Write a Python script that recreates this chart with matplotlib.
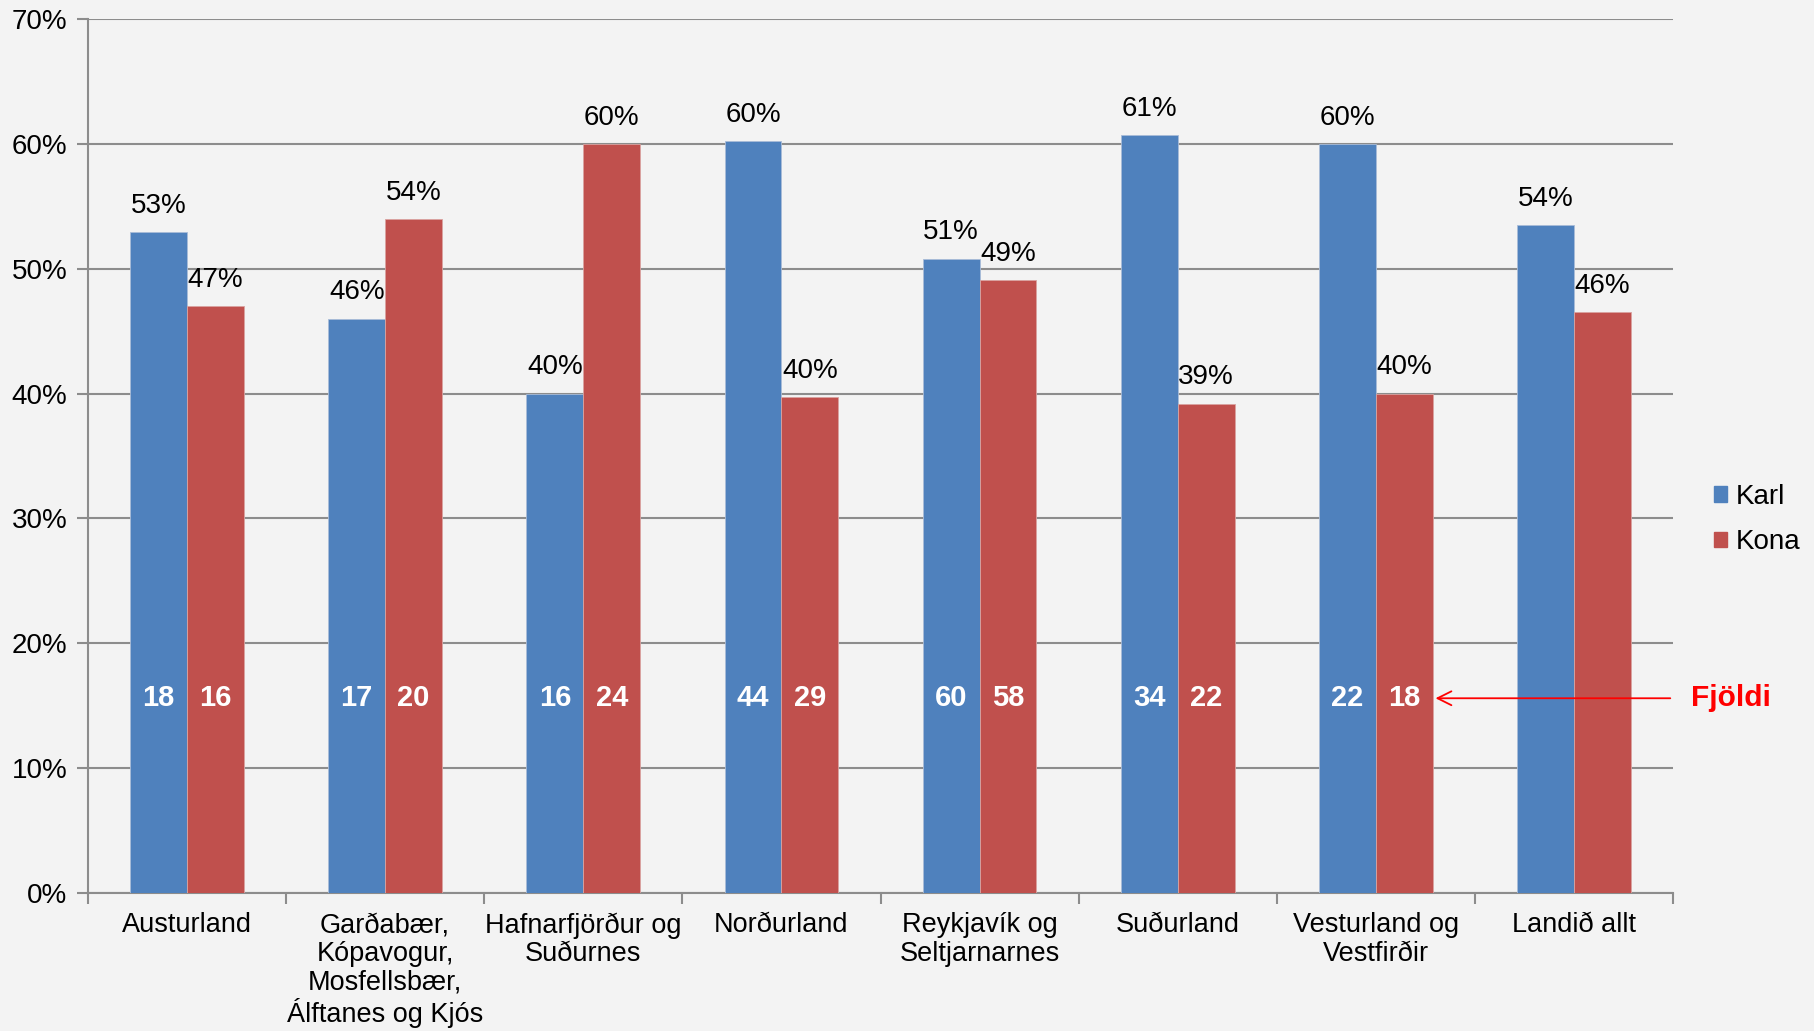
import numpy as np
import matplotlib.pyplot as plt
from matplotlib.patches import Patch

plt.rcParams['font.family'] = ['Liberation Sans', 'DejaVu Sans']

# data
regions = ['Austurland', 'Garðabær,\nKópavogur,\nMosfellsbær,\nÁlftanes og Kjós',
           'Hafnarfjörður og\nSuðurnes', 'Norðurland', 'Reykjavík og\nSeltjarnarnes',
           'Suðurland', 'Vesturland og\nVestfirðir', 'Landið allt']
karl = [0.529, 0.460, 0.400, 0.602, 0.508, 0.607, 0.600, 0.535]
kona = [0.470, 0.540, 0.600, 0.397, 0.491, 0.392, 0.400, 0.465]
karl_labels = ['53%', '46%', '40%', '60%', '51%', '61%', '60%', '54%']
kona_labels = ['47%', '54%', '60%', '40%', '49%', '39%', '40%', '46%']
karl_n = [18, 17, 16, 44, 60, 34, 22]
kona_n = [16, 20, 24, 29, 58, 22, 18]

blue = '#4f81bd'
red = '#c0504d'
bg = '#f3f3f3'
grey = '#8c8c8c'

fig = plt.figure(figsize=(18.14, 10.31), dpi=100, facecolor=bg)
ax = fig.add_axes([0.0485, 0.1338, 0.8738, 0.8478])
ax.set_facecolor(bg)

x = np.arange(len(regions))
w = 0.287
ax.bar(x - w/2, karl, w, color=blue, edgecolor='#a9bcd8', linewidth=0.6, zorder=3)
ax.bar(x + w/2, kona, w, color=red, edgecolor='#d9a3a1', linewidth=0.6, zorder=3)

for i in range(len(regions)):
    ax.text(x[i] - w/2, karl[i] + 0.021, karl_labels[i], ha='center', va='center', fontsize=20)
    ax.text(x[i] + w/2, kona[i] + 0.021, kona_labels[i], ha='center', va='center', fontsize=20)

for i in range(len(karl_n)):
    ax.text(x[i] - w/2, 0.156, str(karl_n[i]), ha='center', va='center', fontsize=21,
            fontweight='bold', color='white', zorder=4)
    ax.text(x[i] + w/2, 0.156, str(kona_n[i]), ha='center', va='center', fontsize=21,
            fontweight='bold', color='white', zorder=4)

ax.set_xlim(-0.5, len(regions) - 0.5)
ax.set_ylim(0, 0.7)
ax.set_yticks(np.arange(0, 0.71, 0.1))
ax.set_yticklabels([f'{int(round(v*100))}%' for v in np.arange(0, 0.71, 0.1)], fontsize=20)
ax.yaxis.grid(True, color=grey, linewidth=1.5, zorder=0)
ax.tick_params(axis='y', length=8, width=1.5, color=grey, pad=7)

ax.set_xticks(np.arange(-0.5, len(regions)), minor=False)
ax.set_xticklabels([])
ax.set_xticks(x, minor=True)
ax.set_xticklabels(regions, minor=True, fontsize=19.5, linespacing=1.12, va='top')
ax.tick_params(axis='x', which='major', length=8, width=1.5, color=grey)
ax.tick_params(axis='x', which='minor', length=0, pad=14)

for s in ['top', 'right']:
    ax.spines[s].set_visible(False)
for s in ['left', 'bottom']:
    ax.spines[s].set_color(grey)
    ax.spines[s].set_linewidth(1.5)

# arrow pointing at the counts
ax.annotate('', xy=(6 + w, 0.156), xytext=(7.5, 0.156),
            arrowprops=dict(arrowstyle='->', color='red', lw=1.3, mutation_scale=25),
            annotation_clip=False)
ax.text(7.59, 0.156, 'Fjöldi', ha='left', va='center', fontsize=21.5, fontweight='bold',
        color='red', clip_on=False)

handles = [Patch(color=blue, label='Karl'), Patch(color=red, label='Kona')]
fig.legend(handles=handles, loc='center left', bbox_to_anchor=(0.9385, 0.496), frameon=False,
           fontsize=20, handlelength=0.5, handleheight=0.5, handletextpad=0.3,
           labelspacing=0.7, borderaxespad=0)

fig.savefig('out.png', dpi=100, facecolor=bg)
